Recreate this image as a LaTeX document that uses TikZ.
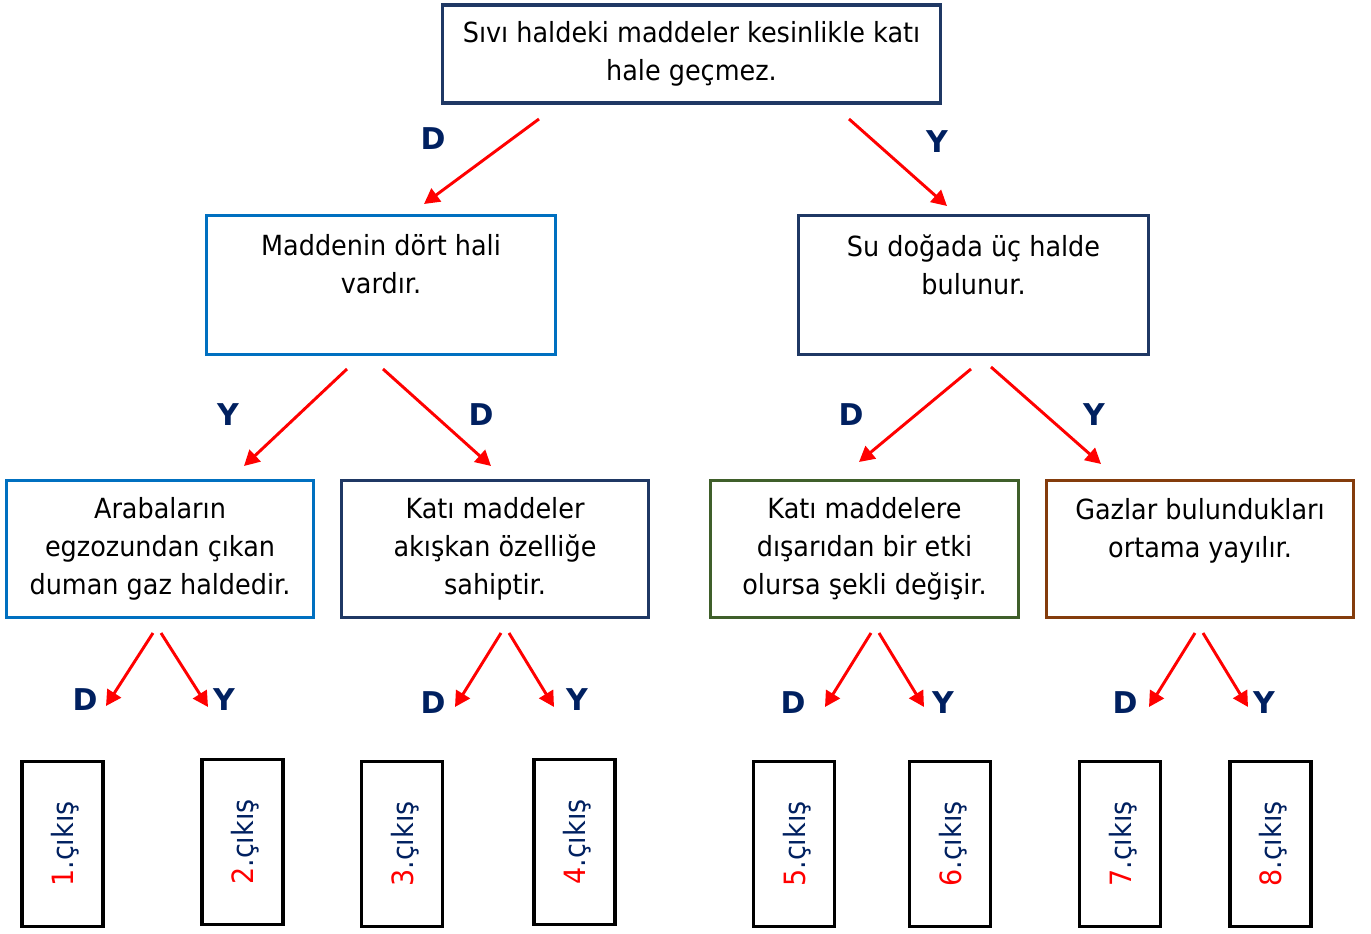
\documentclass[tikz,border=0pt]{standalone}
\usepackage{fontspec}
\setmainfont{DejaVu Sans}[FakeStretch=0.92]
\newfontfamily\lblfont{DejaVu Sans}
\usetikzlibrary{arrows.meta}
\definecolor{navy}{HTML}{1F3864}
\definecolor{dnavy}{HTML}{002060}
\definecolor{lblue}{HTML}{0070C0}
\definecolor{dgreen}{HTML}{3F5F2A}
\definecolor{brown}{HTML}{843C0C}
\definecolor{ared}{HTML}{FF0000}
\begin{document}
\begin{tikzpicture}[x=0.75pt,y=-0.75pt,
  box/.style={draw=#1,line width=2.6pt,fill=white,align=center,inner sep=0pt,
    font=\fontsize{20.8}{28.5}\selectfont},
  outbox/.style={draw=black,line width=2.6pt,minimum width=81*0.75pt,minimum height=165*0.75pt,inner sep=0pt},
  outtext/.style={rotate=90,text=dnavy,font=\fontsize{22}{28.5}\selectfont,inner sep=0pt},
  lbl/.style={text=dnavy,font=\lblfont\fontsize{22.5}{26}\selectfont\bfseries,inner sep=0pt},
  arr/.style={draw=ared,line width=2.2pt,-{Triangle[length=11.5pt,width=12pt]}}
]
\useasboundingbox (0,0) rectangle (1371,934);

% boxes
\node[box=navy,minimum width=498*0.75pt,minimum height=98*0.75pt] (top) at (691.5,54)
  {Sıvı haldeki maddeler kesinlikle katı\\hale geçmez.\rule[-2pt]{0pt}{2pt}};
\node[box=lblue,minimum width=349*0.75pt,minimum height=139*0.75pt] (madd) at (381,285)
  {Maddenin dört hali\\vardır.\\\rule[-2.5pt]{0pt}{2.5pt}};
\node[box=navy,minimum width=350*0.75pt,minimum height=139*0.75pt] (su) at (973.5,285)
  {Su doğada üç halde\\bulunur.\\\rule[-2.5pt]{0pt}{2.5pt}};
\node[box=lblue,minimum width=307*0.75pt,minimum height=137*0.75pt] (arab) at (160,549)
  {Arabaların\\egzozundan çıkan\\duman gaz haldedir.};
\node[box=navy,minimum width=307*0.75pt,minimum height=137*0.75pt] (kati) at (495,549)
  {Katı maddeler\\akışkan özelliğe\\sahiptir.};
\node[box=dgreen,minimum width=308*0.75pt,minimum height=137*0.75pt] (katie) at (864.5,549)
  {Katı maddelere\\dışarıdan bir etki\\olursa şekli değişir.};
\node[box=brown,minimum width=307*0.75pt,minimum height=137*0.75pt] (gaz) at (1200,549)
  {Gazlar bulundukları\\ortama yayılır.\\\rule[-2.5pt]{0pt}{2.5pt}};

% output boxes
\foreach \n/\x/\y in {1/62.5/844,2/242.5/842,3/402/844,4/574.5/842,5/794/844,6/950/844,7/1120/844,8/1270.5/844}{
  \node[outbox] (o\n) at (\x,\y) {};
  \node[outtext] (t\n) at ([xshift=3*0.75pt]o\n.center) {\textcolor{ared}{\n}.çıkış};
}

% labels
\node[lbl] (l1) at (433,139) {D};
\node[lbl] (l2) at (937,142) {Y};
\node[lbl] (l3) at (228,415) {Y};
\node[lbl] (l4) at (481,415) {D};
\node[lbl] (l5) at (851,415) {D};
\node[lbl] (l6) at (1094,415) {Y};
\node[lbl] (l7) at (85,700) {D};
\node[lbl] (l8) at (224,700) {Y};
\node[lbl] (l9) at (433,703) {D};
\node[lbl] (l10) at (577,700) {Y};
\node[lbl] (l11) at (793,703) {D};
\node[lbl] (l12) at (943,703) {Y};
\node[lbl] (l13) at (1125,703) {D};
\node[lbl] (l14) at (1264,703) {Y};

% arrow endpoints
\coordinate (a1s) at (539,119);  \coordinate (a1e) at (424,204);
\coordinate (a2s) at (849,119);  \coordinate (a2e) at (947,206);
\coordinate (a3s) at (347,369);  \coordinate (a3e) at (244,466);
\coordinate (a4s) at (383,369);  \coordinate (a4e) at (491,466);
\coordinate (a5s) at (971,369);  \coordinate (a5e) at (859,462);
\coordinate (a6s) at (991,367);  \coordinate (a6e) at (1101,464);
\coordinate (a7s) at (153,633);  \coordinate (a7e) at (106,706);
\coordinate (a8s) at (161,633);  \coordinate (a8e) at (208,707);
\coordinate (a9s) at (501,633);  \coordinate (a9e) at (455,707);
\coordinate (a10s) at (509,633); \coordinate (a10e) at (554,707);
\coordinate (a11s) at (871,633); \coordinate (a11e) at (825,707);
\coordinate (a12s) at (879,633); \coordinate (a12e) at (924,707);
\coordinate (a13s) at (1195,633); \coordinate (a13e) at (1149,707);
\coordinate (a14s) at (1203,633); \coordinate (a14e) at (1248,707);
\foreach \i in {1,...,14}{ \draw[arr] (a\i s) -- (a\i e); }
\end{tikzpicture}
\end{document}
